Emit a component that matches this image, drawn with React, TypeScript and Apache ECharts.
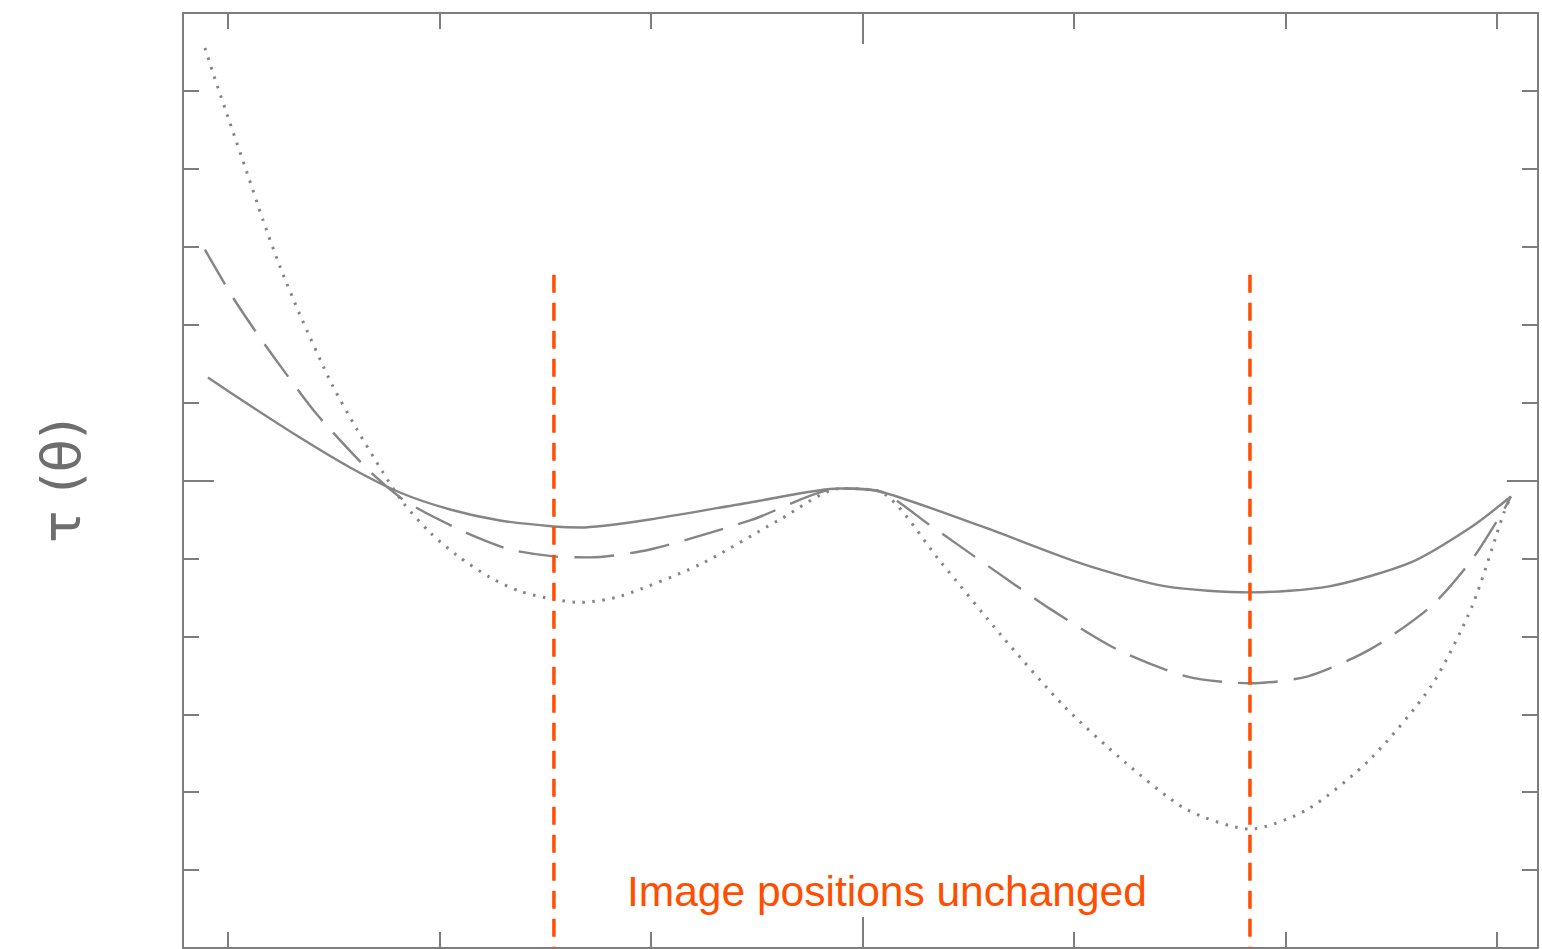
import React, { useEffect, useRef } from "react";
import * as echarts from "echarts";

// x in tick units (0..6 along the frame), y in tick units (-6..6)
const X_MIN = -0.2128;
const X_MAX = 6.1939;
const Y_MIN = -6;
const Y_MAX = 6;

const X_MINOR_TICKS = [0, 1, 2, 4, 5, 6];
const X_MAJOR_TICKS = [3];
const Y_MINOR_TICKS = [-6, -5, -4, -3, -2, -1, 1, 2, 3, 4, 5, 6];
const Y_MAJOR_TICKS = [0];

const solidCurve: [number, number][] = [
  [-0.095, 1.321], [0.104, 0.962], [0.34, 0.551], [0.577, 0.167], [0.813, -0.154],
  [1.05, -0.372], [1.286, -0.513], [1.541, -0.59], [1.664, -0.603], [1.995, -0.5],
  [2.468, -0.282], [2.894, -0.103], [3.083, -0.141], [3.565, -0.59], [4.047, -1.077],
  [4.435, -1.359], [4.832, -1.436], [5.206, -1.359], [5.593, -1.051], [5.882, -0.59],
  [6.066, -0.205],
];

const dashedCurve: [number, number][] = [
  [-0.109, 2.962], [0.024, 2.346], [0.151, 1.833], [0.26, 1.423], [0.421, 0.846],
  [0.671, 0.115], [0.827, -0.244], [0.941, -0.423], [1.144, -0.692], [1.333, -0.885],
  [1.541, -0.974], [1.712, -0.987], [1.995, -0.885], [2.468, -0.513], [2.894, -0.103],
  [3.083, -0.141], [3.314, -0.564], [3.603, -1.115], [3.891, -1.654], [4.203, -2.167],
  [4.53, -2.513], [4.832, -2.603], [5.106, -2.513], [5.4, -2.167], [5.688, -1.615],
  [5.882, -1.013], [6.033, -0.372], [6.066, -0.205],
];

const dottedCurve: [number, number][] = [
  [-0.109, 5.551], [-0.071, 5.231], [0.009, 4.59], [0.09, 3.949], [0.165, 3.346],
  [0.246, 2.744], [0.34, 2.128], [0.492, 1.231], [0.61, 0.654], [0.733, 0.103],
  [0.827, -0.282], [0.955, -0.667], [1.083, -0.962], [1.239, -1.244], [1.381, -1.423],
  [1.541, -1.526], [1.664, -1.564], [1.853, -1.487], [2.232, -1.077], [2.61, -0.5],
  [2.894, -0.103], [3.083, -0.141], [3.371, -1.051], [3.66, -2.0], [3.953, -2.897],
  [4.241, -3.615], [4.53, -4.218], [4.832, -4.474], [5.106, -4.218], [5.4, -3.577],
  [5.688, -2.641], [5.882, -1.615], [6.033, -0.41], [6.066, -0.205],
];

const imagePositions = [1.541, 4.832];
const markerTop = 2.641;

const Y_LABEL = "τ (θ)";
const NOTE = "Image positions unchanged";

const AXIS_COLOR = "#7d7d7d";
const CURVE_COLOR = "#858585";
const ORANGE = "#FF4E00";

export default function App() {
  const ref = useRef<HTMLDivElement>(null);

  useEffect(() => {
    if (!ref.current) return;
    const chart = echarts.init(ref.current, null, { renderer: "svg" });

    const lineStyle = { color: AXIS_COLOR, width: 2 };
    const xBase = {
      type: "value" as const,
      min: X_MIN,
      max: X_MAX,
      axisLabel: { show: false },
      splitLine: { show: false },
    };
    const yBase = {
      type: "value" as const,
      min: Y_MIN,
      max: Y_MAX,
      axisLabel: { show: false },
      splitLine: { show: false },
    };
    const frameLine = { show: true, onZero: false, lineStyle };
    const noLine = { show: false, onZero: false };

    const xAxes = [
      { ...xBase, position: "bottom", axisLine: frameLine, axisTick: { show: true, inside: true, length: 16, customValues: X_MINOR_TICKS, lineStyle } },
      { ...xBase, position: "top", axisLine: frameLine, axisTick: { show: true, inside: true, length: 16, customValues: X_MINOR_TICKS, lineStyle } },
      { ...xBase, position: "bottom", axisLine: noLine, axisTick: { show: true, inside: true, length: 31, customValues: X_MAJOR_TICKS, lineStyle } },
      { ...xBase, position: "top", axisLine: noLine, axisTick: { show: true, inside: true, length: 31, customValues: X_MAJOR_TICKS, lineStyle } },
    ];
    const yAxes = [
      {
        ...yBase, position: "left",
        name: Y_LABEL, nameLocation: "middle", nameRotate: 90, nameGap: 95,
        nameTextStyle: { fontSize: 54, color: "#6e6e6e", fontFamily: "DejaVu Sans" },
        axisLine: frameLine,
        axisTick: { show: true, inside: true, length: 16, customValues: Y_MINOR_TICKS, lineStyle },
      },
      { ...yBase, position: "right", axisLine: frameLine, axisTick: { show: true, inside: true, length: 16, customValues: Y_MINOR_TICKS, lineStyle } },
      { ...yBase, position: "left", axisLine: noLine, axisTick: { show: true, inside: true, length: 31, customValues: Y_MAJOR_TICKS, lineStyle } },
      { ...yBase, position: "right", axisLine: noLine, axisTick: { show: true, inside: true, length: 31, customValues: Y_MAJOR_TICKS, lineStyle } },
    ];

    const curve = (data: [number, number][], type: any, width: number) => ({
      type: "line",
      data,
      xAxisIndex: 0,
      yAxisIndex: 0,
      showSymbol: false,
      smooth: 0.25,
      silent: true,
      lineStyle: { color: CURVE_COLOR, width, type },
      z: 2,
    });

    const markers = imagePositions.map((x) => ({
      type: "line",
      data: [[x, markerTop], [x, Y_MIN]],
      xAxisIndex: 0,
      yAxisIndex: 0,
      showSymbol: false,
      silent: true,
      lineStyle: { color: ORANGE, width: 3.5, type: [18, 10] },
      z: 3,
    }));

    chart.setOption({
      animation: false,
      backgroundColor: "#ffffff",
      grid: { left: 183, right: 4, top: 13, bottom: 1, containLabel: false },
      xAxis: xAxes,
      yAxis: yAxes,
      series: [
        curve(solidCurve, "solid", 2.4),
        curve(dashedCurve, [40, 16], 2.4),
        curve(dottedCurve, [2.5, 7.5], 3),
        ...markers,
      ],
      graphic: [
        {
          type: "text",
          x: 627,
          y: 891,
          z: 10,
          style: {
            text: NOTE,
            fill: ORANGE,
            font: "42.5px 'Liberation Sans', Arial, sans-serif",
            textAlign: "left",
            textVerticalAlign: "middle",
          },
        },
      ],
    });

    return () => chart.dispose();
  }, []);

  return (
    <div
      ref={ref}
      style={{ position: "fixed", left: 0, top: 0, width: 1542, height: 949, background: "#fff" }}
    />
  );
}
